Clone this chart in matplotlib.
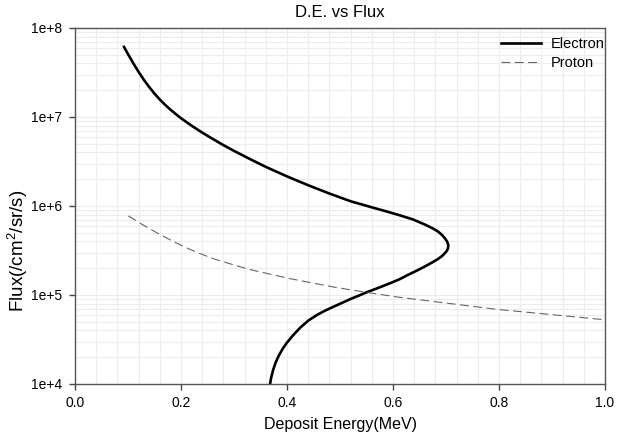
import matplotlib
matplotlib.use('Agg')
import matplotlib.pyplot as plt
import matplotlib.ticker as mticker
import numpy as np

plt.rcParams['font.family'] = ['Liberation Sans', 'DejaVu Sans']
plt.rcParams['mathtext.fontset'] = 'custom'
plt.rcParams['mathtext.rm'] = 'Liberation Sans'
plt.rcParams['mathtext.it'] = 'Liberation Sans'

# Electron curve (ordered along the curve, top to bottom)
electron_e = [0.0925, 0.10, 0.11, 0.12, 0.13, 0.14, 0.15, 0.16, 0.17, 0.18,
              0.19, 0.20, 0.22, 0.24, 0.26, 0.28, 0.30, 0.33, 0.36, 0.40,
              0.44, 0.48, 0.52, 0.56, 0.59, 0.613, 0.637, 0.660, 0.6755, 0.685,
              0.6925, 0.698, 0.702, 0.7043, 0.7038, 0.702, 0.698, 0.6925, 0.685, 0.6755,
              0.660, 0.645, 0.628, 0.613, 0.595, 0.575, 0.55, 0.52, 0.487, 0.47,
              0.456, 0.44, 0.4245, 0.41, 0.40, 0.392, 0.385, 0.379, 0.374, 0.370,
              0.368]
electron_flux = [6.12e7, 5.08e7, 4.01e7, 3.21e7, 2.61e7, 2.17e7, 1.83e7, 1.57e7, 1.37e7, 1.21e7,
                 1.08e7, 9.68e6, 7.98e6, 6.68e6, 5.66e6, 4.83e6, 4.16e6, 3.37e6, 2.75e6, 2.15e6,
                 1.71e6, 1.38e6, 1.13e6, 9.66e5, 8.61e5, 7.85e5, 7.08e5, 6.19e5, 5.58e5, 5.16e5,
                 4.72e5, 4.32e5, 3.99e5, 3.65e5, 3.37e5, 3.16e5, 2.96e5, 2.74e5, 2.54e5, 2.35e5,
                 2.09e5, 1.88e5, 1.68e5, 1.51e5, 1.36e5, 1.22e5, 1.07e5, 9.02e4, 7.35e4, 6.59e4,
                 5.94e4, 5.15e4, 4.27e4, 3.45e4, 2.92e4, 2.50e4, 2.11e4, 1.77e4, 1.45e4, 1.17e4,
                 1.0e4]

# Proton curve
proton_e = [0.1006, 0.126, 0.157, 0.182, 0.2075, 0.239, 0.264, 0.327, 0.4025, 0.4906,
            0.550, 0.613, 0.796, 0.991, 1.0]
proton_flux = [7.73e5, 6.24e5, 4.90e5, 4.09e5, 3.44e5, 2.87e5, 2.52e5, 1.95e5, 1.54e5, 1.22e5,
               1.07e5, 9.4e4, 6.9e4, 5.33e4, 5.25e4]

fig = plt.figure(figsize=(6.24, 4.40), dpi=100)
ax = fig.add_axes([0.1202, 0.1273, 0.8494, 0.8091])

ax.plot(electron_e, electron_flux, color="black", lw=1.9, label="Electron", zorder=3)
ax.plot(proton_e, proton_flux, color="#666666", lw=0.8, dashes=(8, 4), label="Proton", zorder=3)

ax.set_yscale("log")
ax.set_xlim(0, 1.0)
ax.set_ylim(1e4, 1e8)

ax.xaxis.set_major_locator(mticker.MultipleLocator(0.2))
ax.xaxis.set_minor_locator(mticker.MultipleLocator(0.04))
ax.xaxis.set_major_formatter(mticker.FormatStrFormatter("%.1f"))
ax.yaxis.set_major_locator(mticker.LogLocator(base=10, numticks=10))
ax.yaxis.set_minor_locator(mticker.LogLocator(base=10, subs=np.arange(2, 10), numticks=20))
ax.yaxis.set_major_formatter(mticker.FuncFormatter(lambda v, p: "1e+%d" % round(np.log10(v))))
ax.yaxis.set_minor_formatter(mticker.NullFormatter())

ax.grid(True, which="both", color="#ececec", lw=0.8, zorder=0)
ax.set_axisbelow(True)
ax.tick_params(which="major", direction="out", length=4, width=1, color="#444444",
               labelsize=10, pad=5)
ax.tick_params(which="minor", length=0)
for s in ax.spines.values():
    s.set_color("#555555")
    s.set_linewidth(1.0)

ax.set_title("D.E. vs Flux", fontsize=12, pad=8)
ax.set_xlabel("Deposit Energy(MeV)", fontsize=11.5, labelpad=5)
ax.set_ylabel("Flux(/cm$^2$/sr/s)", fontsize=13.5)
ax.yaxis.set_label_coords(-0.085, 0.374)

ax.legend(loc="upper right", bbox_to_anchor=(1.0, 0.975), frameon=False, fontsize=10.5,
          handlelength=2.75, borderaxespad=0, borderpad=0, labelspacing=0.35,
          handletextpad=0.7)

plt.savefig("out.png", dpi=100)
plt.close()
